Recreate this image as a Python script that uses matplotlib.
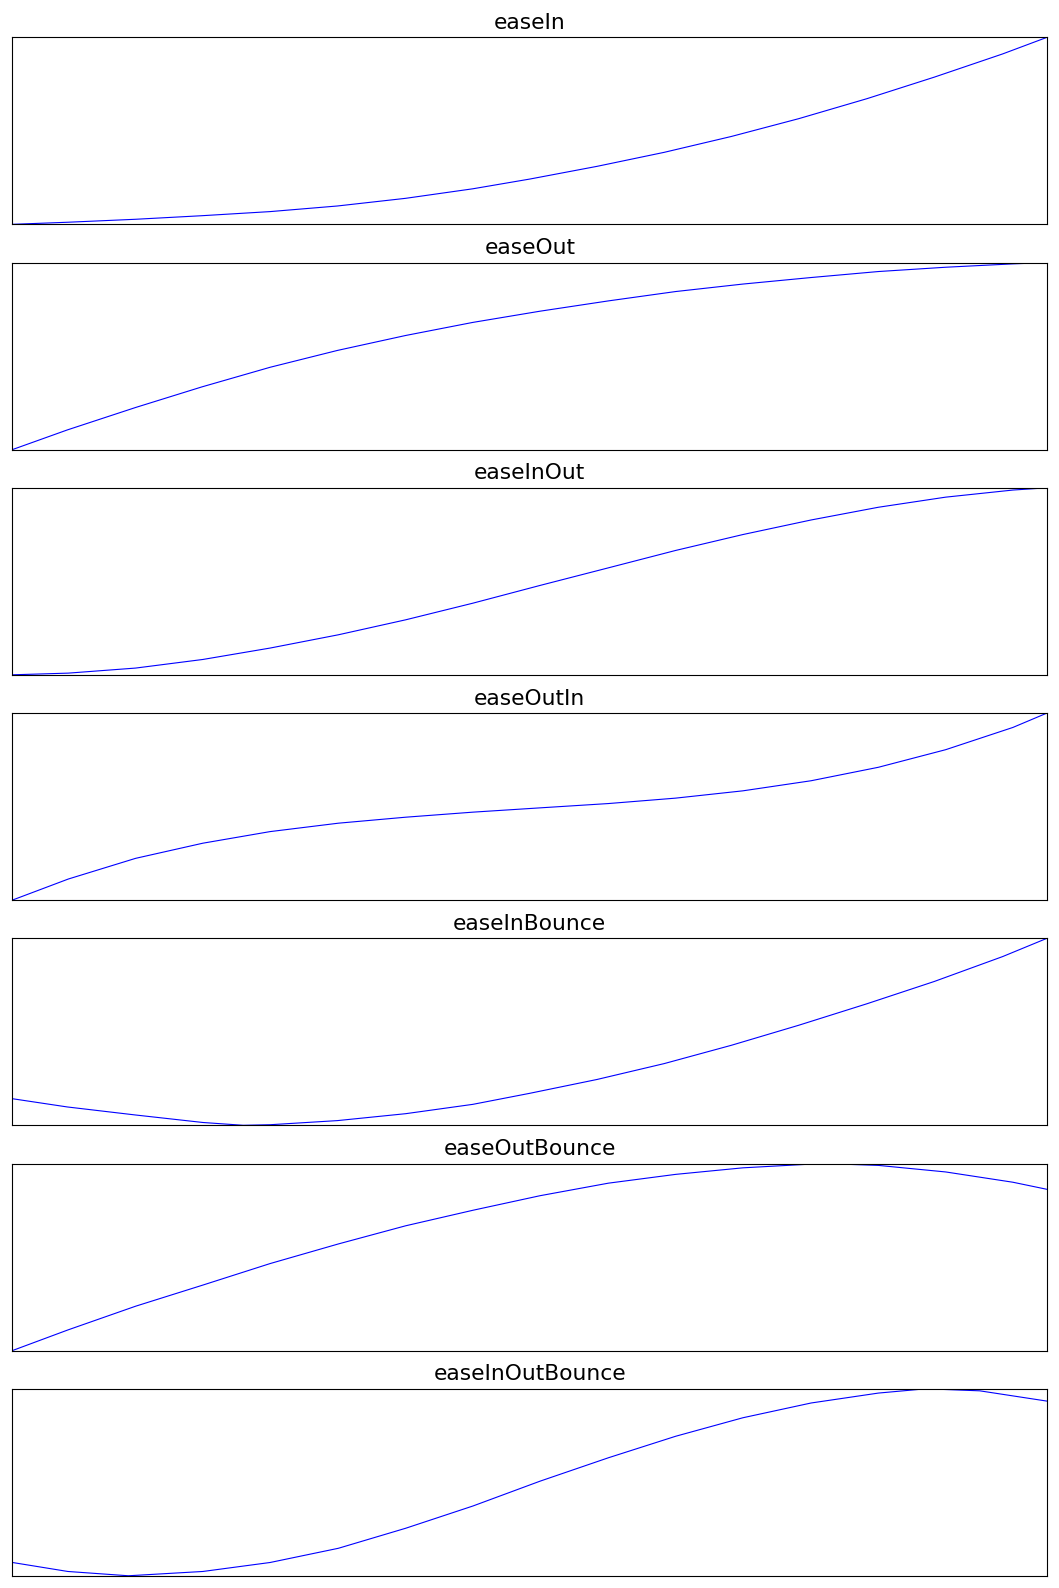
import matplotlib
matplotlib.use('Agg')
import matplotlib.pyplot as plt

plt.rcParams['font.family'] = ['DejaVu Sans']

titles = ['easeIn', 'easeOut', 'easeInOut', 'easeOutIn',
          'easeInBounce', 'easeOutBounce', 'easeInOutBounce']

# values (x = progress, y = eased value)
ease_in_x = [0, 0.053, 0.119, 0.183, 0.249, 0.314, 0.380, 0.445, 0.50,
             0.565, 0.630, 0.695, 0.760, 0.826, 0.891, 0.957, 1.0]
ease_in_y = [0, 0.011, 0.027, 0.046, 0.068, 0.098, 0.139, 0.19, 0.242,
             0.31, 0.385, 0.47, 0.565, 0.672, 0.787, 0.911, 1.0]

ease_out_x = [0, 0.053, 0.119, 0.183, 0.249, 0.314, 0.380, 0.445, 0.510,
              0.576, 0.641, 0.706, 0.772, 0.837, 0.902, 0.967, 1.0]
ease_out_y = [0, 0.105, 0.225, 0.335, 0.44, 0.53, 0.61, 0.68, 0.74,
              0.795, 0.845, 0.885, 0.92, 0.952, 0.975, 0.993, 1.0]

ease_inout_x = [0, 0.054, 0.119, 0.184, 0.249, 0.315, 0.380, 0.445, 0.510,
                0.576, 0.641, 0.706, 0.772, 0.837, 0.902, 0.967, 1.0]
ease_inout_y = [0, 0.009, 0.036, 0.082, 0.143, 0.214, 0.294, 0.383, 0.478,
                0.572, 0.665, 0.75, 0.828, 0.896, 0.95, 0.988, 1.0]

ease_outin_x = [0, 0.054, 0.119, 0.184, 0.249, 0.315, 0.380, 0.445, 0.510,
                0.576, 0.641, 0.706, 0.772, 0.837, 0.902, 0.967, 1.0]
ease_outin_y = [0, 0.1125, 0.223, 0.304, 0.366, 0.411, 0.443, 0.470, 0.493,
                0.516, 0.545, 0.584, 0.638, 0.710, 0.804, 0.923, 1.0]

in_bounce_x = [0, 0.053, 0.119, 0.184, 0.223, 0.249, 0.314, 0.380, 0.445, 0.50,
               0.565, 0.630, 0.695, 0.760, 0.826, 0.891, 0.957, 1.0]
in_bounce_y = [0.142, 0.098, 0.055, 0.015, 0.0, 0.003, 0.025, 0.062, 0.112, 0.171,
               0.245, 0.330, 0.428, 0.535, 0.650, 0.769, 0.902, 1.0]

out_bounce_x = [0, 0.0535, 0.119, 0.184, 0.249, 0.315, 0.380, 0.445, 0.510,
                0.576, 0.641, 0.706, 0.772, 0.785, 0.837, 0.902, 0.967, 1.0]
out_bounce_y = [0, 0.11, 0.237, 0.35, 0.465, 0.57, 0.667, 0.75, 0.828,
                0.895, 0.942, 0.977, 0.997, 1.0, 0.99, 0.955, 0.9, 0.862]

inout_bounce_x = [0, 0.0535, 0.112, 0.184, 0.249, 0.315, 0.380, 0.445, 0.510,
                  0.576, 0.641, 0.706, 0.772, 0.837, 0.883, 0.935, 1.0]
inout_bounce_y = [0.071, 0.023, 0.0, 0.023, 0.071, 0.147, 0.254, 0.373, 0.506,
                  0.631, 0.746, 0.845, 0.924, 0.977, 1.0, 0.989, 0.934]

curves = [(ease_in_x, ease_in_y), (ease_out_x, ease_out_y),
          (ease_inout_x, ease_inout_y), (ease_outin_x, ease_outin_y),
          (in_bounce_x, in_bounce_y), (out_bounce_x, out_bounce_y),
          (inout_bounce_x, inout_bounce_y)]

fig, axes = plt.subplots(7, 1, figsize=(10.59, 15.88), dpi=100)
fig.subplots_adjust(left=0.0118, right=0.9887, top=0.9765, bottom=0.0077,
                    hspace=0.2045)

for ax, title, (xs, ys) in zip(axes, titles, curves):
    ax.plot(xs, ys, color='blue', linewidth=0.8)
    ax.margins(0)
    ax.set_xticks([])
    ax.set_yticks([])
    ax.set_title(title, fontsize=15.7)

plt.savefig('out.png', dpi=100)
plt.close()
